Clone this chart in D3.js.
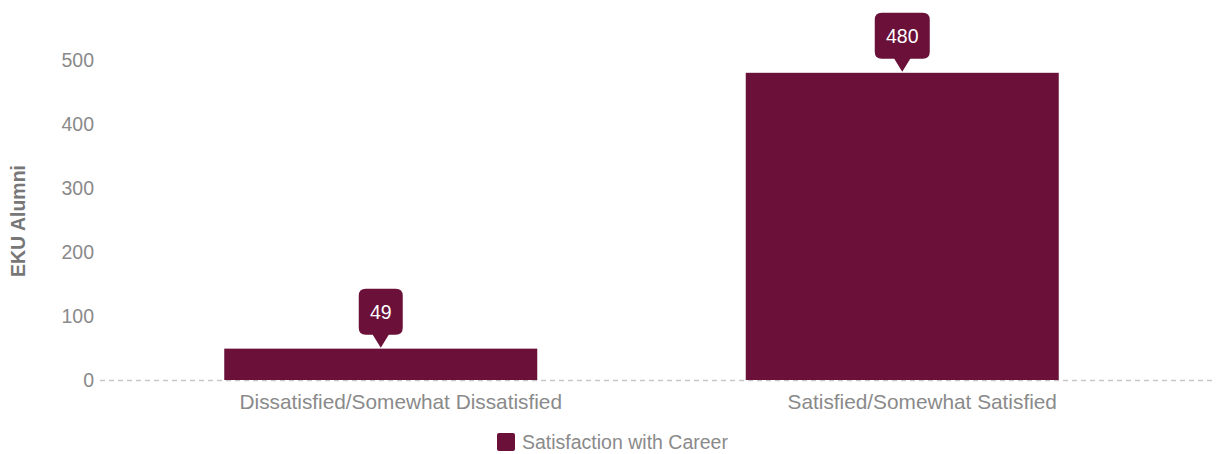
<!DOCTYPE html>
<html><head><meta charset="utf-8">
<script src="https://cdn.jsdelivr.net/npm/d3@7"></script>
<style>body{margin:0;background:#fff;font-family:"Liberation Sans",Arial,sans-serif;}</style>
</head><body><svg id="c" width="1216" height="454"></svg>
<script>
const categories = ["Dissatisfied/Somewhat Dissatisfied", "Satisfied/Somewhat Satisfied"];
const values = [49, 480];
const yTicks = [0, 100, 200, 300, 400, 500];
const seriesName = "Satisfaction with Career";
const yTitle = "EKU Alumni";

const color = "#6a1039";
const svg = d3.select("#c");
const x = d3.scaleBand().domain(categories).range([120, 1163]).paddingInner(0.4).paddingOuter(0.2);
const y = d3.scaleLinear().domain([0, 500]).range([380, 60]);
const ff = "Liberation Sans, Arial, sans-serif";

// zero line
svg.append("line").attr("x1", 100).attr("x2", 1216).attr("y1", y(0)+0.5).attr("y2", y(0)+0.5)
  .attr("stroke", "#c8c8c8").attr("stroke-width", 1.5).attr("stroke-dasharray", "5,4");

// y axis
const yAxis = svg.append("g").attr("transform", "translate(94,0)")
  .call(d3.axisLeft(y).tickValues(yTicks).tickSize(0).tickPadding(0));
yAxis.select(".domain").remove();
yAxis.selectAll("text").attr("fill", "#8a8a8a").style("font-size", "19.5px").style("font-family", ff);

// y title
svg.append("text").attr("transform", "translate(25,221) rotate(-90)").attr("text-anchor", "middle")
  .attr("fill", "#777").style("font-size", "19.5px").style("font-weight", "bold").text(yTitle);

// bars
const bw = 313;
svg.selectAll("rect.bar").data(values).join("rect").attr("class", "bar")
  .attr("x", (d, i) => x(categories[i]) + x.bandwidth()/2 - bw/2)
  .attr("width", bw)
  .attr("y", d => y(d)).attr("height", d => y(0) - y(d)).attr("fill", color);

// x axis labels
const xAxis = svg.append("g").attr("transform", `translate(20,${y(0)})`)
  .call(d3.axisBottom(x).tickSize(0).tickPadding(14));
xAxis.select(".domain").remove();
xAxis.selectAll("text").attr("fill", "#8a8a8a").style("font-size", "20.8px").style("font-family", ff);

// callouts
values.forEach((v, i) => {
  const cx = x(categories[i]) + x.bandwidth()/2;
  const tip = y(v) - 1;
  const label = String(v);
  const w = label.length * 11 + 22, h = 46, r = 7;
  const top = tip - 13 - h;
  const l = cx - w/2, rgt = cx + w/2, bot = top + h;
  const p = `M${l+r},${top} H${rgt-r} Q${rgt},${top} ${rgt},${top+r} V${bot-r} Q${rgt},${bot} ${rgt-r},${bot} H${cx+8} L${cx},${tip} L${cx-8},${bot} H${l+r} Q${l},${bot} ${l},${bot-r} V${top+r} Q${l},${top} ${l+r},${top} Z`;
  svg.append("path").attr("d", p).attr("fill", color);
  svg.append("text").attr("x", cx).attr("y", top + h/2 + 7).attr("text-anchor", "middle")
    .attr("fill", "#fff").style("font-size", "19.5px").text(label);
});

// legend
svg.append("rect").attr("x", 497).attr("y", 433).attr("width", 18).attr("height", 18).attr("rx", 2).attr("fill", color);
svg.append("text").attr("x", 522).attr("y", 449).attr("fill", "#8a8a8a").style("font-size", "19.5px").text(seriesName);
</script></body></html>
